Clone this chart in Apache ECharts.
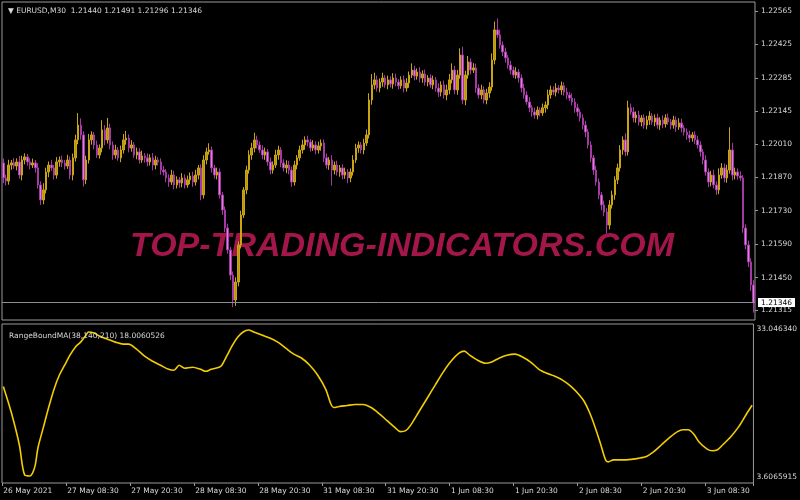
<!DOCTYPE html>
<html><head><meta charset="utf-8">
<script src="https://cdn.jsdelivr.net/npm/echarts@6/dist/echarts.min.js"></script>
<style>html,body{margin:0;background:#000}#c{width:800px;height:500px}</style>
</head><body><div id="c"></div>
<script>
// ---- data (EURUSD M30) ----
const firstOpen = 1.21930;
const closes = [
1.21867,1.21854,1.21921,1.21930,1.21917,1.21934,1.21879,1.21942,1.21955,1.21934,
1.21921,1.21930,1.21909,1.21838,1.21775,1.21817,1.21892,1.21921,1.21909,1.21879,
1.21934,1.21942,1.21930,1.21917,1.21942,1.21879,1.21951,1.22026,1.22088,1.22047,
1.21859,1.21942,1.22026,1.22047,1.22005,1.21963,1.21992,1.22068,1.22026,1.22076,
1.22005,1.21963,1.21984,1.21951,1.21984,1.22026,1.22034,1.21992,1.22005,1.21963,
1.21976,1.21942,1.21959,1.21951,1.21934,1.21951,1.21921,1.21942,1.21934,1.21900,
1.21892,1.21867,1.21850,1.21879,1.21838,1.21859,1.21846,1.21867,1.21838,1.21859,
1.21875,1.21850,1.21879,1.21909,1.21796,1.21942,1.21976,1.21984,1.21909,1.21879,
1.21892,1.21796,1.21733,1.21658,1.21566,1.21461,1.21357,1.21432,1.21587,1.21712,
1.21817,1.21900,1.21963,1.21992,1.22026,1.22005,1.21984,1.21963,1.21976,1.21934,
1.21900,1.21921,1.21963,1.21984,1.21930,1.21909,1.21921,1.21900,1.21850,1.21921,
1.21951,1.21984,1.22005,1.22026,1.22017,1.21992,1.22005,1.21984,1.22001,1.22013,
1.21951,1.21921,1.21942,1.21900,1.21921,1.21892,1.21909,1.21879,1.21892,1.21867,
1.21892,1.21942,1.21992,1.22005,1.21984,1.22013,1.22047,1.22193,1.22256,1.22277,
1.22243,1.22268,1.22285,1.22256,1.22277,1.22260,1.22285,1.22268,1.22252,1.22277,
1.22243,1.22264,1.22297,1.22318,1.22293,1.22310,1.22285,1.22302,1.22268,1.22285,
1.22256,1.22277,1.22243,1.22226,1.22256,1.22214,1.22235,1.22277,1.22318,1.22235,
1.22297,1.22381,1.22193,1.22297,1.22352,1.22318,1.22327,1.22243,1.22214,1.22235,
1.22193,1.22222,1.22247,1.22360,1.22486,1.22465,1.22423,1.22394,1.22369,1.22339,
1.22318,1.22297,1.22310,1.22285,1.22243,1.22214,1.22185,1.22160,1.22143,1.22130,
1.22151,1.22139,1.22160,1.22172,1.22214,1.22235,1.22226,1.22243,1.22235,1.22252,
1.22226,1.22214,1.22201,1.22185,1.22160,1.22143,1.22118,1.22088,1.22059,1.22005,
1.21951,1.21900,1.21850,1.21796,1.21754,1.21725,1.21670,1.21754,1.21796,1.21859,
1.21909,1.21984,1.22026,1.21976,1.22160,1.22143,1.22118,1.22130,1.22101,1.22118,
1.22088,1.22109,1.22126,1.22101,1.22118,1.22088,1.22109,1.22093,1.22118,1.22101,
1.22088,1.22109,1.22080,1.22097,1.22076,1.22059,1.22047,1.22034,1.22047,1.22026,
1.22005,1.21976,1.21942,1.21892,1.21850,1.21879,1.21838,1.21817,1.21879,1.21909,
1.21867,1.21900,1.21984,1.21879,1.21892,1.21875,1.21867,1.21658,1.21587,1.21516,
1.21420,1.21346];
// upper / lower wick lengths in points (0.00001)
const wickUp = [
18,14,22,12,20,15,25,18,15,12, 15,18,12,20,15,28,18,15,22,12, 20,15,18,12,22,15,18,22,50,28,
15,18,25,15,12,18,15,40,20,42, 18,15,22,12,18,25,30,15,20,12, 18,15,22,12,18,15,20,18,12,15,
18,12,15,22,18,15,12,20,15,18, 15,18,22,12,15,20,18,28,15,12, 18,15,12,15,18,12,15,20,15,18,
12,18,20,22,30,18,15,20,18,12, 18,15,22,18,12,15,20,18,15,18, 12,18,22,15,18,12,20,15,18,15,
15,18,12,20,15,18,12,15,18,12, 15,20,18,15,12,18,22,28,45,30, 18,15,22,12,18,15,20,18,12,15,
18,20,15,28,18,15,20,15,18,12, 15,18,12,20,15,18,22,25,28,18, 22,28,35,18,25,15,20,18,15,22,
15,18,20,28,35,48,22,15,18,12, 18,15,20,12,15,18,15,20,12,18, 15,12,18,15,22,18,15,20,12,18,
15,18,12,20,15,18,12,15,18,12, 15,12,18,15,12,18,15,20,18,15, 18,20,15,28,30,18,20,15,18,12,
15,18,20,12,15,18,12,20,15,18, 12,18,15,20,18,12,15,18,12,15, 18,15,12,20,15,18,22,15,28,20,
18,22,95,30,18,15,20,12,15,18, 15,20];
const wickDown = [
22,18,15,20,12,18,15,22,18,15, 18,12,20,15,21,18,15,22,12,18, 15,20,18,15,12,18,22,15,18,20,
28,18,15,20,18,12,15,18,22,15, 18,20,15,12,18,15,20,18,15,12, 18,15,12,20,18,15,22,18,15,20,
15,18,20,12,18,15,20,18,15,12, 18,20,15,18,22,15,18,12,20,15, 18,15,20,18,15,22,30,25,18,15,
12,18,15,20,18,15,12,18,20,15, 18,15,12,20,18,15,22,18,20,15, 18,12,15,20,18,15,12,18,15,20,
18,15,20,65,18,15,20,18,15,22, 18,15,12,20,15,18,12,15,20,18, 15,18,20,12,18,15,20,18,15,12,
18,15,20,12,18,15,18,20,15,18, 12,18,15,20,18,15,22,18,15,18, 20,15,18,22,15,18,12,20,15,18,
15,18,20,15,18,12,15,18,20,15, 18,12,15,20,18,15,12,18,20,15, 18,15,12,20,18,15,12,18,15,20,
15,18,12,15,20,18,15,18,22,15, 18,20,15,18,22,18,35,18,15,20, 18,15,20,18,15,12,18,20,15,18,
15,18,20,12,18,15,20,18,15,12, 18,15,20,12,18,15,20,18,15,18, 15,20,18,15,22,18,15,20,18,15,
18,20,15,22,18,15,12,20,18,22, 25,42];
const timeLabels = ['26 May 2021','27 May 08:30','27 May 20:30','28 May 08:30','28 May 20:30',
  '31 May 08:30','31 May 20:30','1 Jun 08:30','1 Jun 20:30','2 Jun 08:30','2 Jun 20:30','3 Jun 08:30'];
const barsPerLabel = 24;
const priceTicks = [1.22565,1.22425,1.22285,1.22145,1.22010,1.21870,1.21730,1.21590,1.21450,1.21315];
const priceMin = 1.212732, priceMax = 1.226026;
const lastPrice = 1.21346;
const indMin = 3.6065915, indMax = 33.046340;
const indTickLabels = ['33.046340', '3.6065915'];
// RangeBoundMA points: [bar index, value]
const indPoints = [[0,21.49],[3,16.65],[6,10.69],[8,5.10],[10,4.91],[11,5.47],[12,6.96],[13,10.13],[15,13.86],[17,17.58],[19,20.94],[21,23.55],[23,25.41],[25,27.27],[27,28.76],[29,29.69],[31,31.00],[32,31.56],[34,31.37],[36,30.81],[39,30.25],[42,29.69],[45,29.32],[47,29.32],[50,28.39],[53,27.08],[56,26.15],[59,25.41],[62,24.66],[64,24.48],[66,25.41],[68,24.85],[71,25.04],[74,24.66],[76,24.29],[78,24.66],[81,25.04],[82,25.41],[84,27.27],[86,29.13],[88,30.62],[90,31.56],[92,31.93],[94,31.56],[97,31.00],[100,30.44],[103,29.69],[106,28.57],[109,27.46],[112,26.71],[115,25.41],[118,23.55],[121,20.94],[123,18.14],[124,17.58],[126,17.77],[129,17.95],[132,18.14],[135,18.14],[138,17.58],[141,16.47],[144,15.16],[147,13.86],[149,13.11],[151,13.30],[153,14.42],[156,16.84],[159,19.26],[162,21.68],[165,24.10],[168,26.15],[171,27.64],[173,28.02],[175,27.27],[178,26.34],[181,25.78],[183,25.96],[186,26.71],[189,27.27],[192,27.46],[195,26.90],[198,25.96],[201,24.66],[204,23.92],[207,23.36],[210,22.61],[213,21.49],[216,20.00],[218,18.70],[220,16.65],[222,14.04],[224,11.06],[226,7.89],[227,7.52],[229,7.89],[233,7.89],[237,8.08],[241,8.45],[244,9.38],[247,10.69],[250,11.99],[253,13.11],[255,13.48],[257,13.48],[259,12.74],[261,11.25],[264,9.94],[266,9.57],[268,9.75],[270,10.69],[273,12.18],[276,14.04],[279,16.47],[281,18.006]];
const headerText = '\u25BC EURUSD,M30  1.21440 1.21491 1.21296 1.21346';
const indTitle = 'RangeBoundMA(38,140,210) 18.0060526';
const watermark = 'TOP-TRADING-INDICATORS.COM';

// ---- build ----
const cats = closes.map((_, i) => i);
const ohlc = closes.map((c, i) => {
  const o = i === 0 ? firstOpen : closes[i - 1];
  return [o, c, Math.min(o, c) - wickDown[i] * 1e-5, Math.max(o, c) + wickUp[i] * 1e-5];
});
const FONT = 'DejaVu Sans';
const FS = 7.5;
const txt = '#d8d8d8';
const frame = '#9a9a9a';

const chart = echarts.init(document.getElementById('c'), null, {renderer: 'canvas'});
chart.setOption({
  backgroundColor: '#000',
  animation: false,
  title: [
    {text: headerText, left: 3, top: 2, textStyle: {color: txt, fontSize: FS, fontWeight: 'normal', fontFamily: FONT}},
    {text: indTitle, left: 4, top: 327, textStyle: {color: txt, fontSize: FS, fontWeight: 'normal', fontFamily: FONT}}
  ],
  graphic: [{
    type: 'text', z: 1, silent: true,
    style: {x: 402, y: 247, text: watermark, align: 'center', verticalAlign: 'middle',
      fill: '#a3164a', fontSize: 34, fontWeight: 'bold', fontStyle: 'italic', fontFamily: 'Liberation Sans'}
  }],
  grid: [
    {left: 2, right: 45, top: 2, height: 318, show: true, borderColor: frame, borderWidth: 1, backgroundColor: 'transparent'},
    {left: 2, right: 45, top: 324, height: 159, show: true, borderColor: frame, borderWidth: 1, backgroundColor: 'transparent'}
  ],
  xAxis: [
    {type: 'category', gridIndex: 0, data: cats, boundaryGap: true,
      axisLine: {show: false}, axisTick: {show: false}, axisLabel: {show: false}, splitLine: {show: false}},
    {type: 'category', gridIndex: 1, data: cats, boundaryGap: true,
      axisLine: {show: false},
      axisTick: {show: true, interval: barsPerLabel - 1, length: 3, lineStyle: {color: frame}},
      axisLabel: {show: true, interval: barsPerLabel - 1, align: 'left', margin: 4,
        color: txt, fontSize: FS, fontFamily: FONT,
        formatter: (v, i) => (i % barsPerLabel === 0 ? (timeLabels[i / barsPerLabel] || '') : '')},
      splitLine: {show: false}}
  ],
  yAxis: [
    {type: 'value', gridIndex: 0, position: 'right', min: priceMin, max: priceMax, scale: true,
      splitLine: {show: false}, axisLine: {show: false},
      axisTick: {show: true, customValues: priceTicks, length: 3, lineStyle: {color: frame}},
      axisLabel: {customValues: priceTicks, formatter: v => v.toFixed(5), color: txt, fontSize: FS, fontFamily: FONT, margin: 6}},
    {type: 'value', gridIndex: 1, position: 'right', min: indMin, max: indMax,
      splitLine: {show: false}, axisLine: {show: false}, axisTick: {show: false},
      axisLabel: {customValues: [indMax, indMin], margin: 3, color: txt, fontSize: FS, fontFamily: FONT,
        formatter: v => (v > (indMin + indMax) / 2 ? '{t|' + indTickLabels[0] + '}' : '{b|' + indTickLabels[1] + '}'),
        rich: {t: {padding: [11, 0, 0, 0], color: txt, fontSize: FS, fontFamily: FONT},
               b: {padding: [0, 0, 11, 0], color: txt, fontSize: FS, fontFamily: FONT}}}}
  ],
  series: [
    {type: 'candlestick', xAxisIndex: 0, yAxisIndex: 0, data: ohlc, barWidth: 2, z: 3,
      itemStyle: {color: '#b8970e', color0: '#e07ee0', borderColor: '#c9a511', borderColor0: '#a43aa4', borderWidth: 1}},
    {type: 'line', xAxisIndex: 0, yAxisIndex: 0, z: 2, data: [[closes.length - 1, lastPrice]],
      symbol: 'none', lineStyle: {opacity: 0},
      markLine: {silent: true, symbol: 'none', animation: false, precision: 5,
        lineStyle: {color: '#8c8c94', type: 'solid', width: 1},
        label: {position: 'end', formatter: lastPrice.toFixed(5), backgroundColor: '#fff', color: '#000',
          padding: [1, 3, 0, 3], fontSize: FS, fontFamily: FONT, distance: 3},
        data: [{yAxis: lastPrice}]}},
    {type: 'line', xAxisIndex: 1, yAxisIndex: 1, data: indPoints, showSymbol: false, smooth: 0.3,
      lineStyle: {color: '#f2cd00', width: 1.6}}
  ]
});
</script></body></html>
